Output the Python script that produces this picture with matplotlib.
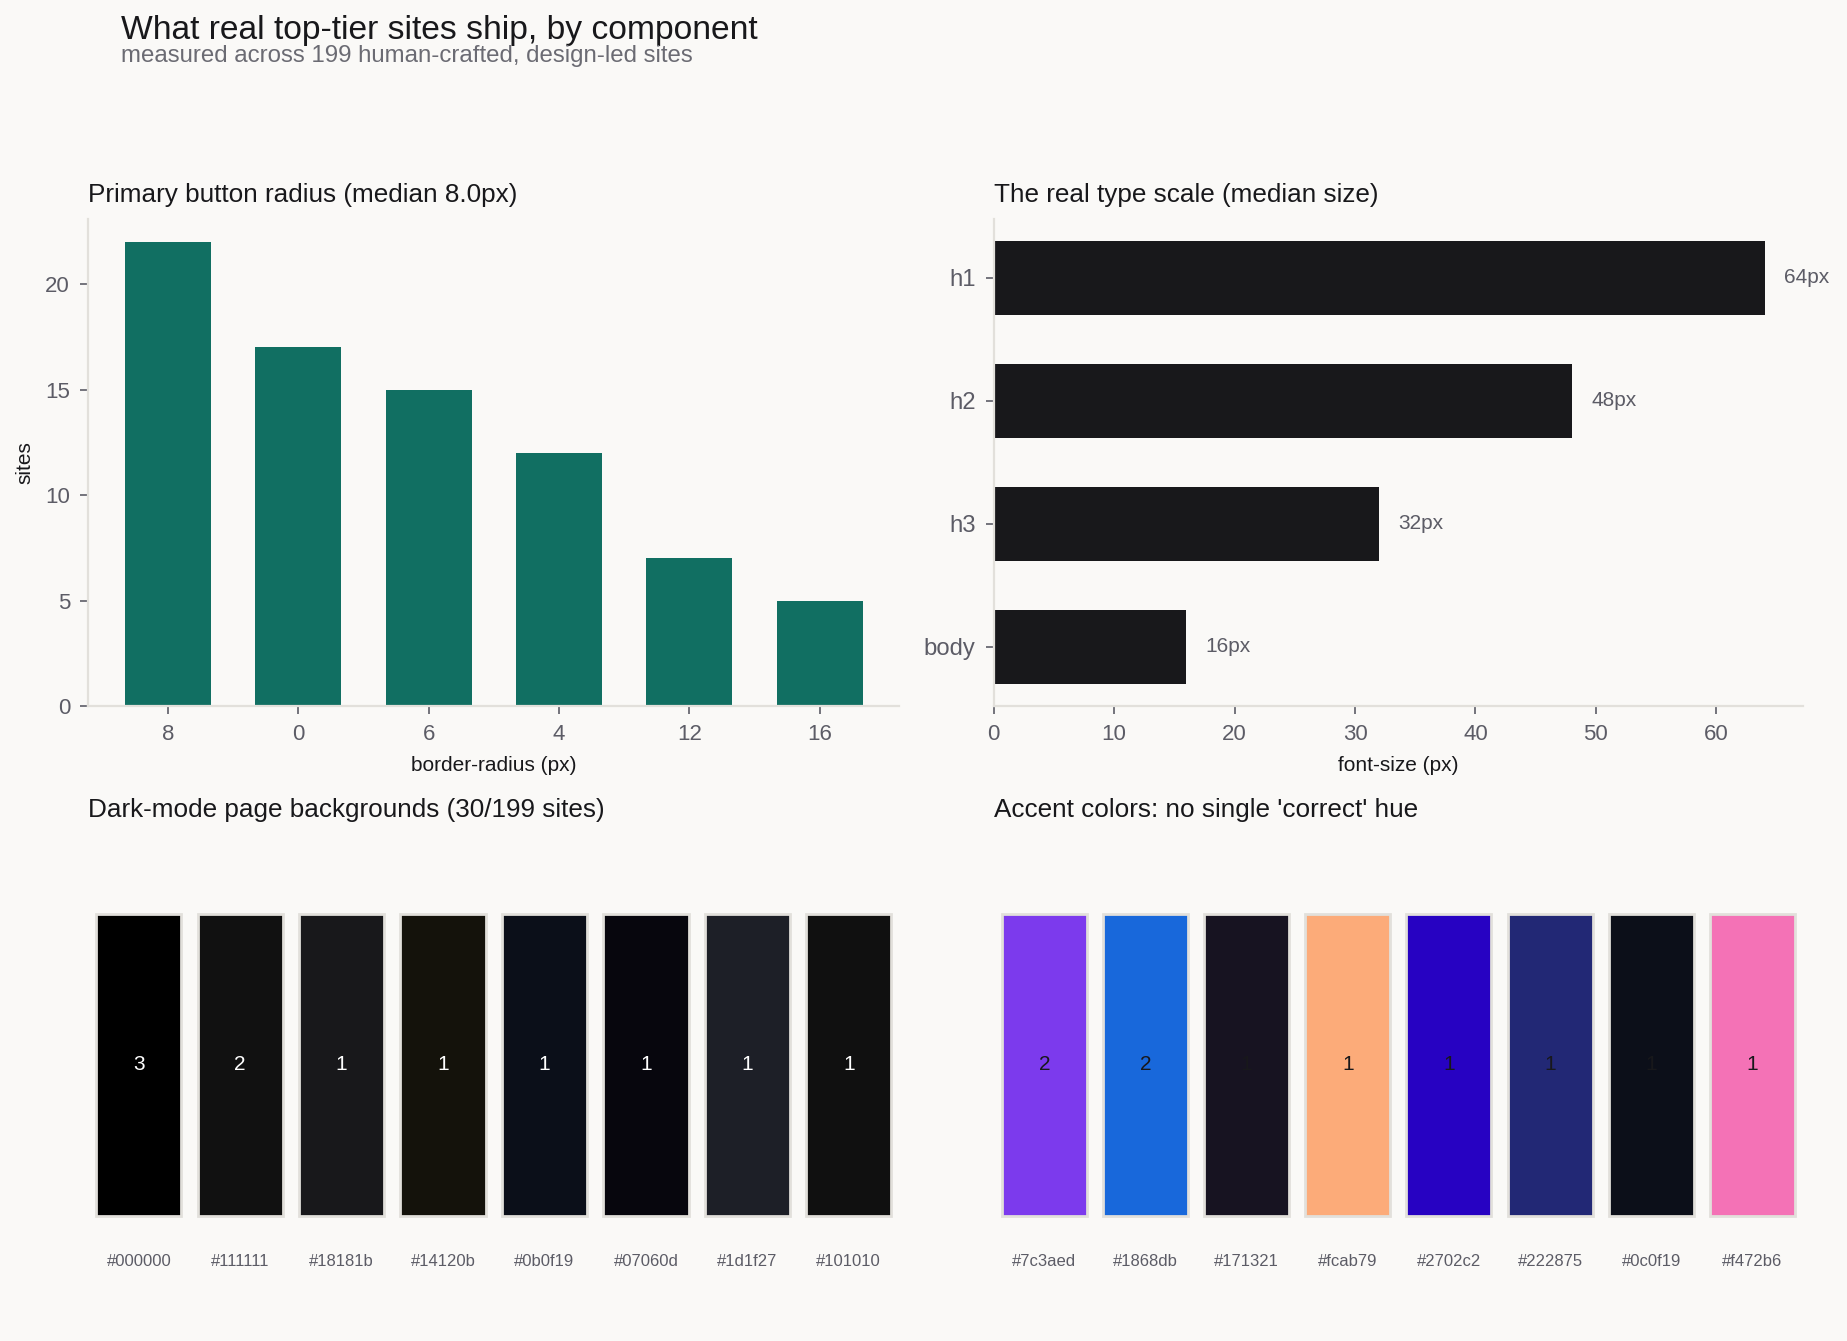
import matplotlib
matplotlib.use("Agg")
import matplotlib.pyplot as plt

# data
radius_labels = ["8", "0", "6", "4", "12", "16"]
radius_counts = [22, 17, 15, 12, 7, 5]

type_levels = ["h1", "h2", "h3", "body"]
type_sizes = [64, 48, 32, 16]

dark_bgs = ["#000000", "#111111", "#18181b", "#14120b", "#0b0f19", "#07060d", "#1d1f27", "#101010"]
dark_counts = [3, 2, 1, 1, 1, 1, 1, 1]

accents = ["#7c3aed", "#1868db", "#171321", "#fcab79", "#2702c2", "#222875", "#0c0f19", "#f472b6"]
accent_counts = [2, 2, 1, 1, 1, 1, 1, 1]

BG = "#faf9f7"
INK = "#18181b"
MUTED = "#5c5c66"
RULE = "#e2e0db"

plt.rcParams["font.family"] = ["Liberation Sans", "DejaVu Sans"]
plt.rcParams["axes.edgecolor"] = RULE
plt.rcParams["xtick.color"] = MUTED
plt.rcParams["ytick.color"] = MUTED
plt.rcParams["xtick.labelsize"] = 8
plt.rcParams["ytick.labelsize"] = 8

fig = plt.figure(figsize=(9.235, 6.705), dpi=200, facecolor=BG)

fig.text(0.0656, 0.971, "What real top-tier sites ship, by component", fontsize=12.1, color=INK)
fig.text(0.0656, 0.9534, "measured across 199 human-crafted, design-led sites", fontsize=8.65, color="#6b6b73")

ax1 = fig.add_axes([0.0477, 0.4735, 0.4393, 0.3635], facecolor=BG)
ax2 = fig.add_axes([0.538, 0.4735, 0.4382, 0.3635], facecolor=BG)
ax3 = fig.add_axes([0.0477, 0.0306, 0.4393, 0.3474], facecolor=BG)
ax4 = fig.add_axes([0.538, 0.0306, 0.4382, 0.3474], facecolor=BG)


def clean(ax):
    for s in ["top", "right"]:
        ax.spines[s].set_visible(False)
    for s in ["left", "bottom"]:
        ax.spines[s].set_color(RULE)
        ax.spines[s].set_linewidth(0.8)
    ax.tick_params(length=3, width=0.6, color=MUTED)


# button radius
ax1.bar(radius_labels, radius_counts, width=0.66, color="#116f62")
clean(ax1)
ax1.set_title("Primary button radius (median 8.0px)", loc="left", fontsize=9.4, color=INK)
ax1.set_xlabel("border-radius (px)", fontsize=7.5, color=INK)
ax1.set_ylabel("sites", fontsize=7.5, color=INK)

# type scale
ax2.barh(type_levels, type_sizes, height=0.6, color=INK)
ax2.invert_yaxis()
clean(ax2)
for lvl, v in zip(type_levels, type_sizes):
    ax2.text(v + max(type_sizes) * 0.025, lvl, f"{v}px", va="center", fontsize=7.5, color=MUTED)
ax2.set_title("The real type scale (median size)", loc="left", fontsize=9.4, color=INK)
ax2.set_xlabel("font-size (px)", fontsize=7.5, color=INK)
ax2.tick_params(axis="y", labelsize=8.6)


def swatches(ax, colors, counts, title, num_color):
    xs = list(range(len(colors)))
    ax.bar(xs, 0.648, bottom=0.18, width=0.84, color=colors, edgecolor=RULE, linewidth=1.0)
    for x, c, n in zip(xs, colors, counts):
        ax.text(x, 0.506, str(n), ha="center", va="center", fontsize=7.5, color=num_color)
        ax.text(x, 0.082, c, ha="center", va="center", fontsize=6, color=MUTED)
    ax.set_xlim(-0.5, len(colors) - 0.5)
    ax.set_ylim(0, 1)
    ax.axis("off")
    ax.set_title(title, loc="left", fontsize=9.4, color=INK)


swatches(ax3, dark_bgs, dark_counts, "Dark-mode page backgrounds (30/199 sites)", "white")
swatches(ax4, accents, accent_counts, "Accent colors: no single 'correct' hue", INK)

fig.savefig("out.png", dpi=200, facecolor=BG)
